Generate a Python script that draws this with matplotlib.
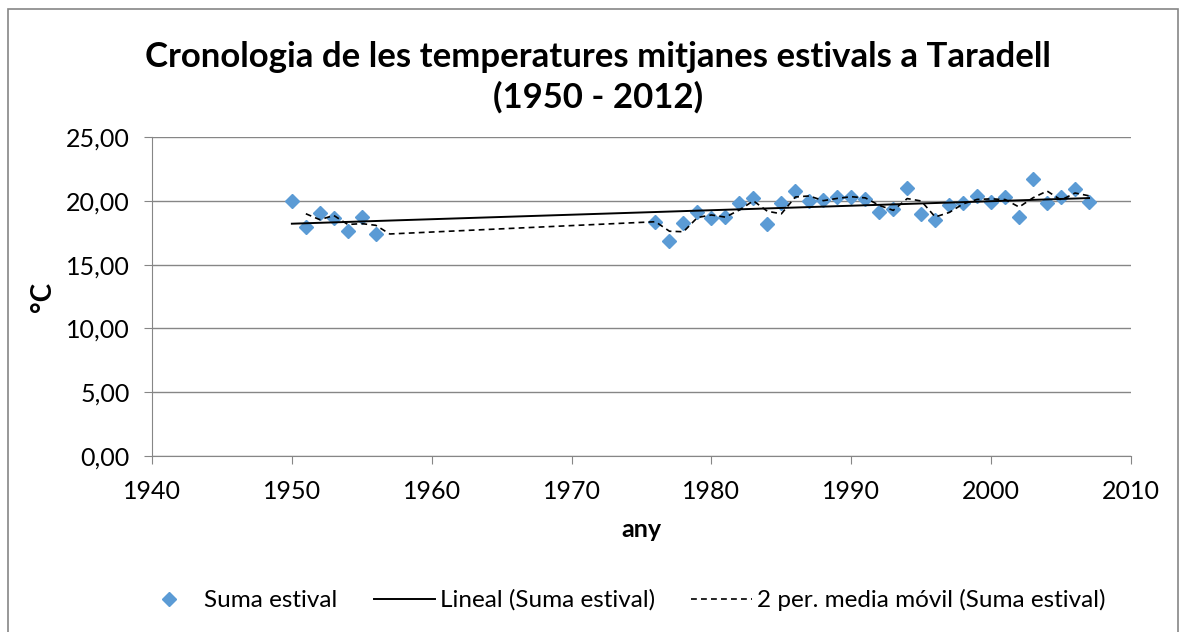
import numpy as np
import matplotlib
matplotlib.use('Agg')
import matplotlib.pyplot as plt
from matplotlib.patches import Rectangle

plt.rcParams['font.family'] = ['Lato', 'DejaVu Sans']

# anys amb dades (estiu)
anys = [1950, 1951, 1952, 1953, 1954, 1955, 1956,
        1976, 1977, 1978, 1979, 1980, 1981, 1982, 1983, 1984, 1985, 1986, 1987,
        1988, 1989, 1990, 1991, 1992, 1993, 1994, 1995, 1996, 1997, 1998, 1999,
        2000, 2001, 2002, 2003, 2004, 2005, 2006, 2007]
temps = [20.0, 17.97, 19.07, 18.63, 17.66, 18.76, 17.4,
         18.36, 16.87, 18.28, 19.1, 18.68, 18.76, 19.8, 20.2, 18.16, 19.8, 20.8, 19.96,
         20.06, 20.32, 20.32, 20.14, 19.15, 19.35, 21.0, 18.97, 18.5, 19.67, 19.85, 20.37,
         19.93, 20.27, 18.75, 21.73, 19.8, 20.32, 20.9, 19.88]

yticks = [0, 5, 10, 15, 20, 25]
xticks = [1940, 1950, 1960, 1970, 1980, 1990, 2000, 2010]

anys = np.array(anys)
temps = np.array(temps)

# serie completa amb buits (com al full de calcul)
tots = np.arange(anys.min(), anys.max() + 1)
serie = np.full(len(tots), np.nan)
serie[anys - anys.min()] = temps

# mitjana mobil de 2 periodes (ignora cel.les buides)
mm_x = []
mm_y = []
for i in range(1, len(tots)):
    w = serie[i-1:i+1]
    if not np.all(np.isnan(w)):
        mm_x.append(tots[i])
        mm_y.append(np.nanmean(w))

# tendencia lineal
a, b = np.polyfit(anys, temps, 1)
lx = np.array([anys.min(), anys.max()])
ly = a*lx + b

fig = plt.figure(figsize=(11.86, 6.32), dpi=100)
ax = fig.add_axes([152/1186, 1-456/632, (1131-152)/1186, (456-137)/632])

gris = '#868686'
fs = 18
ax.plot(anys, temps, linestyle='none', marker='D', ms=6.8, color='#5B9BD5',
        label='Suma estival', zorder=3)
ax.plot(lx, ly, color='black', lw=1.4, label='Lineal (Suma estival)', zorder=4)
ax.plot(mm_x, mm_y, color='black', lw=1.2, ls=(0, (3.5, 2.5)),
        label='2 per. media móvil (Suma estival)', zorder=4)

ax.set_xlim(1940, 2010)
ax.set_ylim(0, 25)
ax.set_xticks(xticks)
ax.set_yticks(yticks)
ax.set_yticklabels([('%.2f' % v).replace('.', ',') for v in yticks])
ax.yaxis.grid(True, color=gris, lw=1)
ax.set_axisbelow(True)
for s in ['top', 'right']:
    ax.spines[s].set_visible(False)
for s in ['left', 'bottom']:
    ax.spines[s].set_color(gris)
ax.tick_params(axis='both', direction='out', length=6, color=gris, labelsize=fs, labelcolor='black')
ax.tick_params(axis='x', pad=11)
ax.tick_params(axis='y', pad=10)

ax.set_xlabel('any', fontsize=fs, fontweight='bold', labelpad=11)
ax.set_ylabel('°C', fontsize=fs + 2, fontweight='bold', labelpad=7)

fig.text(0.504, 1-57/632, 'Cronologia de les temperatures mitjanes estivals a Taradell',
         ha='center', va='center', fontsize=25, fontweight='bold')
fig.text(0.504, 1-97/632, '(1950 - 2012)', ha='center', va='center',
         fontsize=25, fontweight='bold')

fig.legend(loc='center', bbox_to_anchor=(622/1186, 1-600/632), ncol=3, frameon=False,
           fontsize=fs - 0.5, handlelength=2.5, columnspacing=1.5, handletextpad=0.2)

fig.patches.append(Rectangle((8/1186, -0.05), 1170/1186, 1.05-9/632, transform=fig.transFigure,
                             fill=False, edgecolor=gris, lw=1.2))

fig.savefig('out.png', dpi=100)
